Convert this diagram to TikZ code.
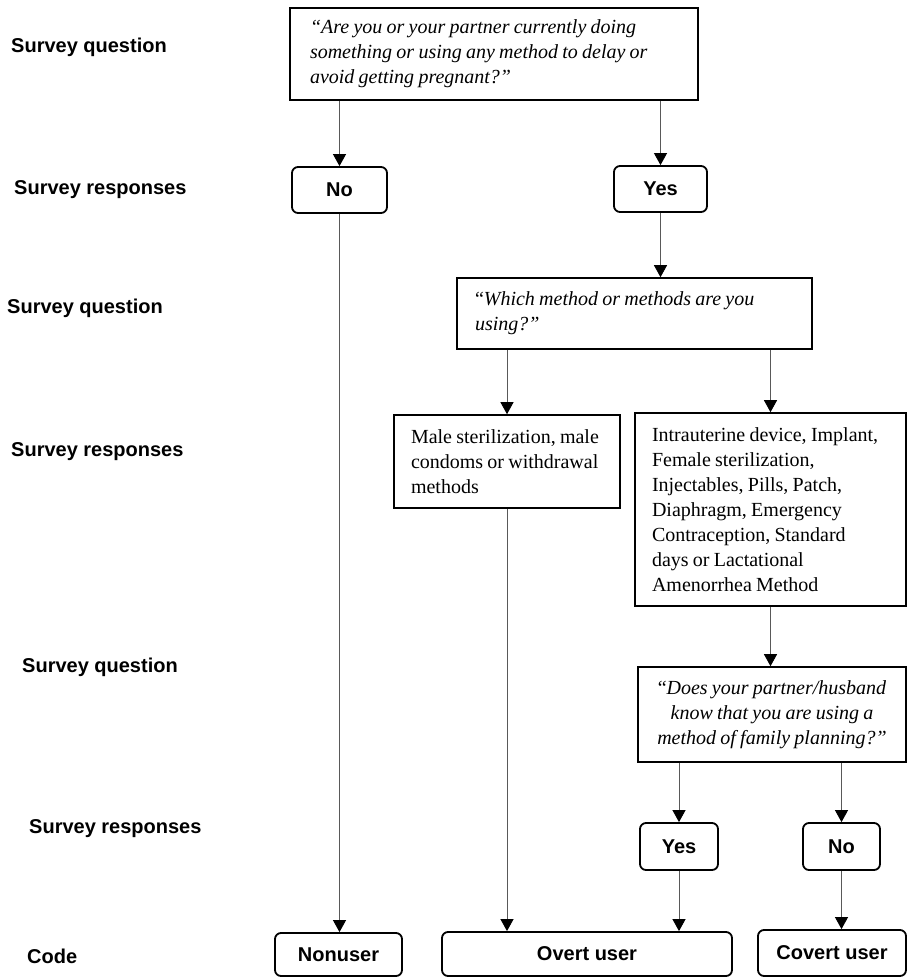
\documentclass[tikz,border=0pt]{standalone}
\usepackage{fontspec}
\setmainfont{Liberation Serif}[WordSpace=0.85]
\setsansfont{Liberation Sans}
\usetikzlibrary{arrows.meta}
\newcommand{\tightsp}{\spaceskip=0pt\relax\xspaceskip=0pt\relax}
\begin{document}
\begin{tikzpicture}[x=1pt,y=-1pt,
  qbox/.style={draw=black, line width=1.6pt, rectangle, inner sep=0pt, font=\fontsize{20}{25}\selectfont},
  rbox/.style={draw=black, line width=1.8pt, rounded corners=6pt, inner sep=0pt, font=\sffamily\bfseries\fontsize{20}{22}\selectfont},
  lab/.style={anchor=west, inner sep=0pt, font=\sffamily\bfseries\fontsize{20}{22}\selectfont},
  arr/.style={draw=black!65, line width=0.9pt, -{Triangle[length=12pt,width=13pt,black]}}]
\useasboundingbox (0,0) rectangle (909,980);

% row labels
\node[lab] (l1) at (11,47)  {Survey question};
\node[lab] (l2) at (14,190) {Survey responses};
\node[lab] (l3) at (7,308)  {Survey question};
\node[lab] (l4) at (11,452) {Survey responses};
\node[lab] (l5) at (22,667) {Survey question};
\node[lab] (l6) at (29,829) {Survey responses};
\node[lab] (l7) at (27,956) {Code};

% question boxes
\node[qbox, minimum width=408pt, minimum height=92pt, text width=368pt, font=\fontsize{20}{25}\selectfont\itshape] (top) at (494,54)
  {\raggedright\tightsp “Are you or your partner currently doing\\something or using any method to delay or\\avoid getting pregnant?”\par};
\node[qbox, minimum width=355pt, minimum height=71pt, text width=319pt] (Which) at (634.5,313.5)
  {\raggedright\tightsp “\itshape Which method or methods are you\\using?”\par};
\node[qbox, minimum width=226pt, minimum height=93pt, text width=192pt] (Male) at (507,461.5)
  {\raggedright\tightsp Male sterilization, male\\condoms or withdrawal\\methods\par};
\node[qbox, minimum width=271pt, minimum height=193pt, text width=237pt] (IUD) at (770.5,509.5)
  {\raggedright\tightsp Intrauterine device, Implant,\\Female sterilization,\\Injectables, Pills, Patch,\\Diaphragm, Emergency\\Contraception, Standard\\days or Lactational\\Amenorrhea Method\par};
\node[qbox, minimum width=268pt, minimum height=95pt, text width=250pt] (Does) at (772,714.5)
  {\centering\tightsp “\itshape Does your partner/husband\\know that you are using a\\method of family planning?”\par};

% response / code boxes
\node[rbox, minimum width=95pt, minimum height=46pt] (No) at (339.5,190) {No};
\node[rbox, minimum width=93pt, minimum height=46pt] (Yes) at (660.5,189) {Yes};
\node[rbox, minimum width=78pt, minimum height=47pt] (Yes2) at (679,846.5) {Yes};
\node[rbox, minimum width=77pt, minimum height=47pt] (No2) at (841.5,846.5) {No};
\node[rbox, minimum width=127pt, minimum height=43pt] (Nonuser) at (338.5,954.5) {Nonuser};
\node[rbox, minimum width=290pt, minimum height=44pt] (Overt) at (587,954) {Overt user};
\node[rbox, minimum width=148pt, minimum height=46pt] (Covert) at (832,953) {Covert user};

% connectors
\draw[arr] (top.south -| No.north) -- (No.north);
\draw[arr] (top.south -| Yes.north) -- (Yes.north);
\draw[arr] (No.south) -- (No.south |- Nonuser.north);
\draw[arr] (Yes.south) -- (Yes.south |- Which.north);
\draw[arr] (Which.south -| Male.north) -- (Male.north);
\draw[arr] (Which.south -| IUD.north) -- (IUD.north);
\draw[arr] (Male.south) -- (Male.south |- Overt.north);
\draw[arr] (IUD.south) -- (IUD.south |- Does.north);
\draw[arr] (Does.south -| Yes2.north) -- (Yes2.north);
\draw[arr] (Does.south -| No2.north) -- (No2.north);
\draw[arr] (Yes2.south) -- (Yes2.south |- Overt.north);
\draw[arr] (No2.south) -- (No2.south |- Covert.north);
\end{tikzpicture}
\end{document}
